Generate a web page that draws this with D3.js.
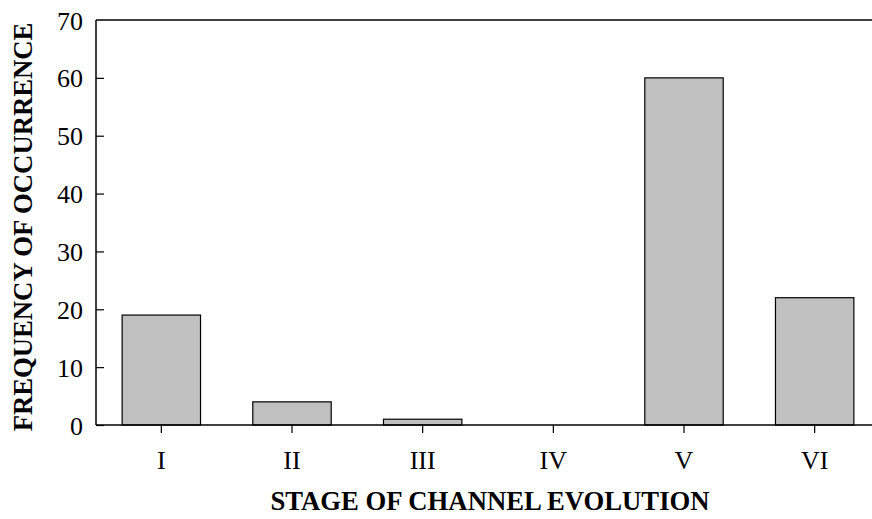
<!DOCTYPE html>
<html>
<head>
  <meta charset="UTF-8">
  <title>Stage of Channel Evolution</title>
  <style>
    body { margin: 0; background: #fff; }
    svg { display: block; }
    .tick text { font-family: "Liberation Serif", "Times New Roman", serif; font-size: 26px; fill: #000; }
    .title { font-family: "Liberation Serif", "Times New Roman", serif; font-size: 26.7px; font-weight: bold; fill: #000; }
  </style>
</head>
<body>
<svg></svg>
<script src="https://d3js.org/d3.v7.min.js"></script>
<script>

let width = 872,
    height = 519;

// data
let stages = ["I", "II", "III", "IV", "V", "VI"];
let frequency = [19, 4, 1, 0, 60, 22];
let yTicks = [0, 10, 20, 30, 40, 50, 60, 70];

let margin = {top: 20, right: -8, bottom: 94, left: 96};

let svg = d3.select("svg")
    .attr("width", width)
    .attr("height", height);

let x = d3.scaleBand()
    .domain(stages)
    .range([margin.left, width - margin.right])
    .paddingInner(0.4)
    .paddingOuter(0.2);

let y = d3.scaleLinear()
    .domain([0, 70])
    .range([height - margin.bottom, margin.top]);

// bars
svg.append("g")
    .selectAll("rect")
    .data(frequency)
    .enter()
    .append("rect")
    .attr("x", (d, i) => x(stages[i]))
    .attr("y", d => y(d))
    .attr("width", x.bandwidth())
    .attr("height", d => y(0) - y(d))
    .attr("fill", "#c0c0c0")
    .attr("stroke", "#000")
    .attr("stroke-width", 1.2);

// left axis, ticks pointing inward
let yAxis = svg.append("g")
    .attr("transform", "translate(" + margin.left + ",0)")
    .call(d3.axisRight(y).tickValues(yTicks).tickSize(8).tickFormat(""));
yAxis.select(".domain").remove();

yAxis.selectAll(".tick")
    .append("text")
    .attr("x", -13)
    .attr("dy", "0.35em")
    .attr("text-anchor", "end")
    .text(d => d);
yAxis.selectAll(".tick")
    .filter(d => d == 70)
    .select("line").remove();

// right axis ticks (mostly off canvas)
let rightAxis = svg.append("g")
    .attr("transform", "translate(" + (width - margin.right) + ",0)")
    .call(d3.axisLeft(y).tickValues(yTicks.slice(1, -1)).tickSize(8).tickFormat(""));
rightAxis.select(".domain").remove();

// frame lines
svg.append("line")
    .attr("x1", margin.left).attr("x2", margin.left)
    .attr("y1", y(70)).attr("y2", y(0))
    .attr("stroke", "#000").attr("stroke-width", 1.5);
svg.append("line")
    .attr("x1", margin.left).attr("x2", width - margin.right)
    .attr("y1", y(70)).attr("y2", y(70))
    .attr("stroke", "#000").attr("stroke-width", 1.5);

// bottom axis
let xAxis = svg.append("g")
    .attr("transform", "translate(0," + y(0) + ")")
    .call(d3.axisBottom(x).tickSize(8).tickPadding(18));
xAxis.select(".domain")
    .attr("d", "M" + margin.left + ",0H" + (width - margin.right))
    .attr("stroke-width", 1.5);

svg.selectAll(".tick line").attr("stroke", "#000").attr("stroke-width", 1.2);

// axis titles
svg.append("text")
    .attr("class", "title")
    .attr("x", 490)
    .attr("y", 510)
    .attr("text-anchor", "middle")
    .text("STAGE OF CHANNEL EVOLUTION");

svg.append("text")
    .attr("class", "title")
    .attr("transform", "translate(32," + 227 + ") rotate(-90)")
    .attr("text-anchor", "middle")
    .text("FREQUENCY OF OCCURRENCE");

</script>
</body>
</html>
